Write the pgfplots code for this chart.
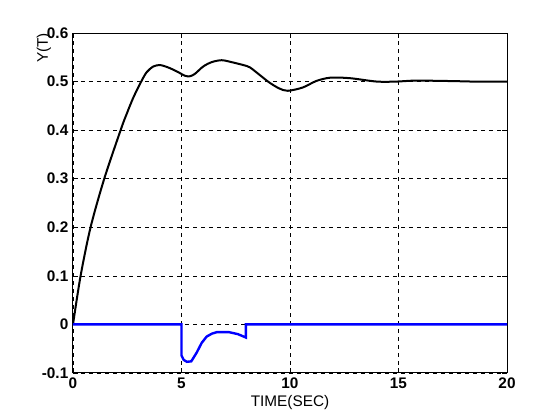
\documentclass[border=0pt]{standalone}
\usepackage{fontspec}
\setmainfont{Liberation Sans}
\usepackage{pgfplots}
\pgfplotsset{compat=1.18}
\begin{document}
\begin{tikzpicture}
\path[use as bounding box] (-54.75pt,-35.25pt) rectangle (365.25pt,279.75pt);
\begin{axis}[
  at={(0,0)}, anchor=south west,
  scale only axis, width=325.5pt, height=255pt,
  xmin=0, xmax=20, ymin=-0.1, ymax=0.6,
  xtick={0,5,10,15,20},
  xticklabels={0,5,10,15,20},
  ytick={-0.1,0,0.1,0.2,0.3,0.4,0.5,0.6},
  yticklabels={-0.1,0,0.1,0.2,0.3,0.4,0.5,0.6},
  grid=major,
  major grid style={black, line width=0.5pt, dash pattern=on 3pt off 3pt},
  tick align=inside,
  major tick length=4pt,
  tick style={black, line width=0.5pt},
  axis line style={black, line width=0.75pt},
  tick label style={font=\fontsize{11.5}{12}\selectfont\bfseries},
  label style={font=\fontsize{11.5}{12}\selectfont},
  xlabel={TIME(SEC)}, ylabel={Y(T)},
  ylabel style={at={(axis description cs:-0.067,0.956)}, anchor=center},
  xlabel style={at={(axis description cs:0.5,-0.088)}, anchor=center},
  clip=true,
]
\addplot[black, line width=1.5pt, smooth, tension=0.5] coordinates {
(0,0) (0.35,0.1) (0.81,0.2) (1.44,0.3) (2.21,0.402) (2.47,0.433) (2.78,0.467)
(3.12,0.498) (3.39,0.519) (3.70,0.531) (4.01,0.534) (4.39,0.529) (4.78,0.521)
(5.16,0.512) (5.39,0.511) (5.62,0.516) (6.0,0.531) (6.39,0.540) (6.85,0.544)
(7.31,0.540) (7.85,0.534) (8.16,0.529) (8.62,0.513) (9.05,0.498) (9.5,0.486)
(9.9,0.481) (10.6,0.488) (11.2,0.501) (11.85,0.508) (12.76,0.507)
(14.0,0.500) (14.9,0.500) (15.8,0.502) (17.5,0.501) (18.5,0.500) (20,0.500)
};
\addplot[color={rgb,255:red,0;green,0;blue,255}, line width=1.8pt] coordinates {
(0,0) (5.0,0) (5.0,-0.064) (5.1,-0.073) (5.25,-0.077) (5.45,-0.076)
(5.7,-0.058) (5.93,-0.038) (6.16,-0.025) (6.4,-0.019) (6.62,-0.016)
(7.2,-0.016) (7.6,-0.020) (7.97,-0.027) (7.97,0) (20,0)
};
\end{axis}
\end{tikzpicture}
\end{document}
